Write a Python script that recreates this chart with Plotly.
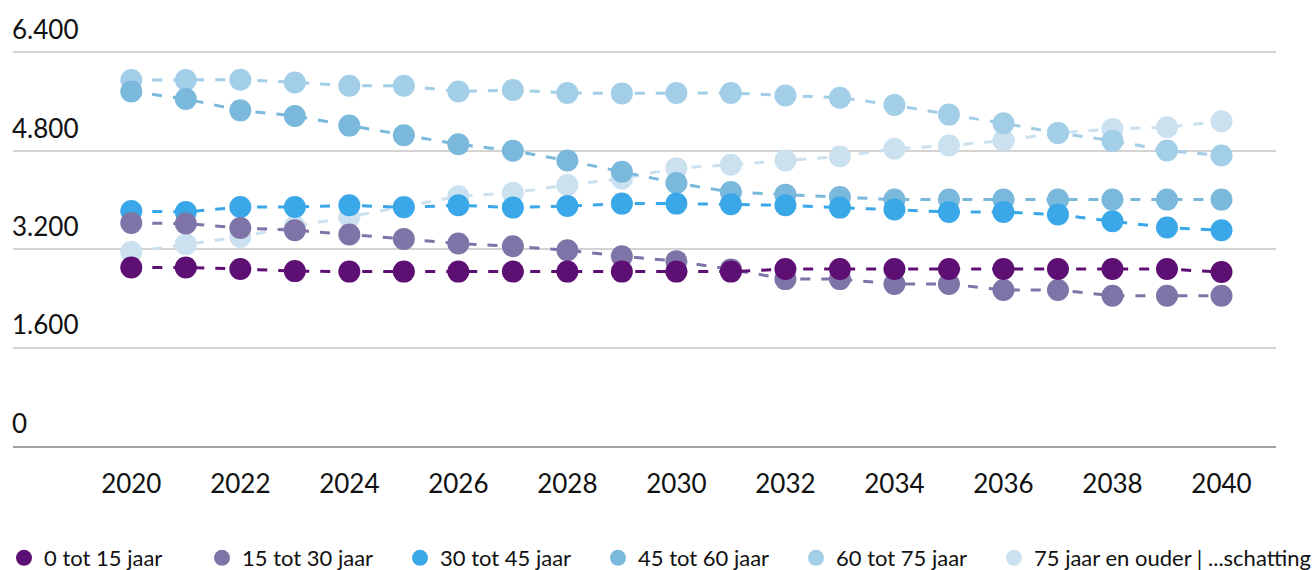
import plotly.graph_objects as go

years = list(range(2020, 2041))

series_names = [
    "0 tot 15 jaar",
    "15 tot 30 jaar",
    "30 tot 45 jaar",
    "45 tot 60 jaar",
    "60 tot 75 jaar",
    "75 jaar en ouder | ...schatting",
]

v_0_15 = [2903, 2903, 2876, 2843, 2835, 2835, 2835, 2835, 2835, 2835, 2835,
          2835, 2876, 2876, 2876, 2876, 2876, 2876, 2876, 2876, 2827]
v_15_30 = [3626, 3616, 3545, 3507, 3438, 3366, 3292, 3248, 3183, 3086, 3005,
           2871, 2713, 2713, 2633, 2633, 2535, 2535, 2443, 2443, 2443]
v_30_45 = [3820, 3804, 3885, 3885, 3912, 3880, 3912, 3875, 3901, 3940, 3940,
           3929, 3912, 3875, 3843, 3804, 3804, 3762, 3653, 3551, 3507]
v_45_60 = [5764, 5641, 5456, 5365, 5208, 5051, 4905, 4798, 4641, 4458, 4274,
           4128, 4086, 4047, 4005, 4005, 4005, 4005, 4005, 4005, 4005]
v_60_75 = [5949, 5949, 5954, 5910, 5856, 5856, 5764, 5787, 5738, 5732, 5738,
           5738, 5699, 5662, 5544, 5387, 5246, 5090, 4960, 4803, 4722]
v_75_plus = [3156, 3281, 3399, 3572, 3723, 3895, 4058, 4115, 4244, 4345, 4517,
             4572, 4641, 4706, 4831, 4884, 4965, 5090, 5155, 5181, 5278]

series_values = [v_0_15, v_15_30, v_30_45, v_45_60, v_60_75, v_75_plus]
colors = ["#5E0F73", "#7F74A8", "#3AA8E8", "#7AB8DC", "#A3CEE8", "#CBE1F0"]

y_ticks = [0, 1600, 3200, 4800, 6400]
y_tick_labels = ["0", "1.600", "3.200", "4.800", "6.400"]
x_ticks = list(range(2020, 2041, 2))

FONT = "Lato, 'Open Sans', sans-serif"

fig = go.Figure()
# lines + markers; oldest group drawn first so the youngest ends on top
for i in reversed(range(len(series_names))):
    fig.add_trace(go.Scatter(
        x=years,
        y=series_values[i],
        name=series_names[i],
        mode="lines+markers",
        line=dict(color=colors[i], width=3, dash="10px,11px"),
        marker=dict(color=colors[i], size=22, line=dict(width=0)),
        showlegend=False,
        hoverinfo="x+y+name",
    ))

# legend entries: circle symbol only
for i in range(len(series_names)):
    fig.add_trace(go.Scatter(
        x=[None],
        y=[None],
        name=series_names[i],
        mode="markers",
        marker=dict(color=colors[i], size=22, line=dict(width=0)),
        showlegend=True,
        legendrank=i + 1,
        legendwidth=275 if i == len(series_names) - 1 else None,
    ))

fig.update_layout(
    width=1314,
    height=570,
    margin=dict(l=0, r=0, t=0, b=124),
    paper_bgcolor="white",
    plot_bgcolor="white",
    font=dict(family=FONT, color="#111111"),
    showlegend=True,
    legend=dict(
        orientation="h",
        xref="container",
        yref="container",
        x=4 / 1314,
        xanchor="left",
        y=(570 - 558) / 570,
        yanchor="middle",
        entrywidth=153,
        entrywidthmode="pixels",
        font=dict(size=22, family=FONT, color="#111111"),
        bgcolor="rgba(0,0,0,0)",
        itemclick=False,
        itemdoubleclick=False,
    ),
    xaxis=dict(
        domain=[13 / 1314, 1276 / 1314],
        range=[2017.83, 2041.0],
        tickmode="array",
        tickvals=x_ticks,
        ticktext=[str(t) for t in x_ticks],
        showgrid=False,
        zeroline=False,
        showline=True,
        linecolor="#A0A0A0",
        linewidth=2,
        ticks="",
        ticklabelstandoff=14,
        automargin=False,
        tickfont=dict(size=26, family=FONT, color="#111111"),
    ),
    yaxis=dict(
        range=[0, 7250],
        tickmode="array",
        tickvals=y_ticks,
        ticktext=y_tick_labels,
        showgrid=True,
        gridcolor="#D3D3D3",
        gridwidth=1.5,
        zeroline=False,
        showline=False,
        ticks="",
        ticklabelposition="inside top",
        ticklabelstandoff=-4,
        ticklabelshift=-4,
        automargin=False,
        tickfont=dict(size=26, family=FONT, color="#111111"),
    ),
)

fig.write_html(
    "out.html",
    config={"displayModeBar": False, "responsive": False},
    post_script="document.body.style.margin='0';document.body.style.overflow='hidden';",
)
